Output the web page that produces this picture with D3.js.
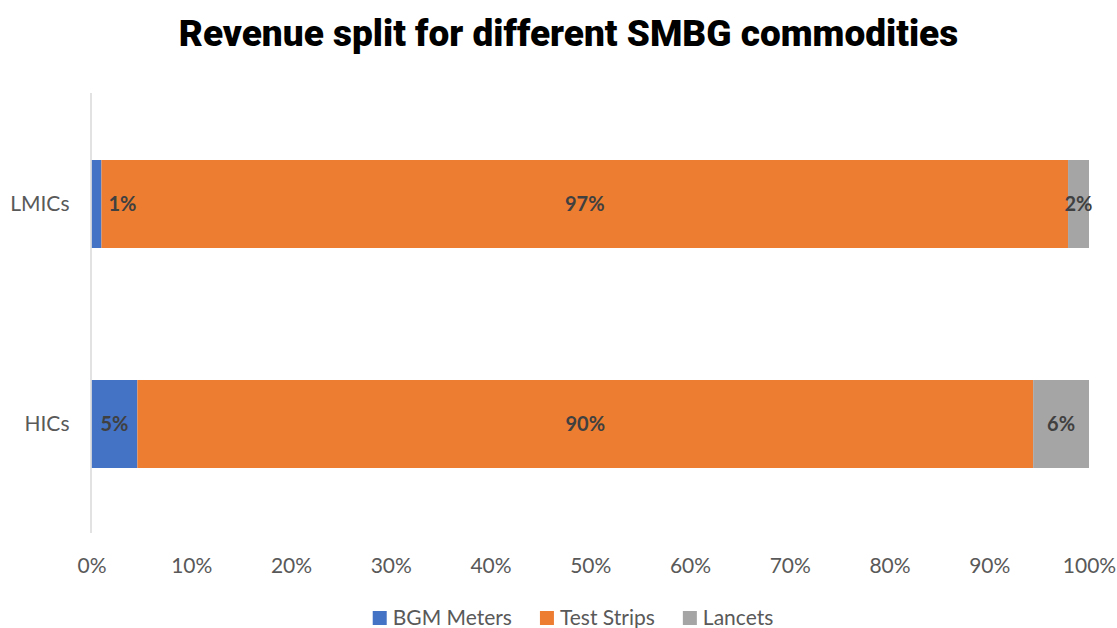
<!DOCTYPE html>
<html>
<head>
<meta charset="utf-8">
<script src="https://cdn.jsdelivr.net/npm/d3@7"></script>
<style>
  html, body { margin: 0; padding: 0; background: #ffffff; }
  svg { display: block; }
</style>
</head>
<body>
<svg id="chart" width="1117" height="628"></svg>
<script>
// Income groups and the share of SMBG revenue (in %) per commodity
const categories = ["LMICs", "HICs"];
const seriesNames = ["BGM Meters", "Test Strips", "Lancets"];
const bgmMeters  = [1.0, 4.6];
const testStrips = [96.9, 89.8];
const lancets    = [2.1, 5.6];
const tickValues = [0, 10, 20, 30, 40, 50, 60, 70, 80, 90, 100];
const colors = ["#4472C4", "#ED7D31", "#A5A5A5"];

const width = 1117, height = 628;
const margin = { top: 94, right: 28, bottom: 94, left: 91.5 };

const svg = d3.select("#chart");

const rows = categories.map((c, i) => ({
  category: c,
  "BGM Meters": bgmMeters[i],
  "Test Strips": testStrips[i],
  "Lancets": lancets[i]
}));

const stacked = d3.stack().keys(seriesNames)(rows);

const x = d3.scaleLinear().domain([0, 100]).range([margin.left, width - margin.right]);
const y = d3.scaleBand().domain(categories)
  .range([margin.top, height - margin.bottom])
  .paddingInner(0.6).paddingOuter(0.3);

const labelFont = "Lato, 'Open Sans', sans-serif";

// Title
svg.append("text")
  .attr("x", width / 2 + 10)
  .attr("y", 46)
  .attr("text-anchor", "middle")
  .attr("font-family", "Roboto, sans-serif")
  .attr("font-weight", 900)
  .attr("font-size", 37)
  .attr("fill", "#000")
  .text("Revenue split for different SMBG commodities");

// Stacked bars
const layer = svg.append("g").selectAll("g")
  .data(stacked).join("g")
  .attr("fill", (d, i) => colors[i]);

layer.selectAll("rect")
  .data(d => d).join("rect")
  .attr("x", d => x(d[0]))
  .attr("y", d => y(d.data.category))
  .attr("width", d => x(d[1]) - x(d[0]))
  .attr("height", y.bandwidth());

// Vertical category axis line
svg.append("line")
  .attr("x1", x(0) - 0.5).attr("x2", x(0) - 0.5)
  .attr("y1", margin.top - 1).attr("y2", height - margin.bottom - 1)
  .attr("stroke", "#d9d9d9").attr("stroke-width", 1.5);

// Category labels
const yAxis = d3.axisLeft(y).tickSize(0).tickPadding(22);
const yg = svg.append("g").attr("transform", `translate(${x(0)},0)`).call(yAxis);
yg.select(".domain").remove();
yg.selectAll("text")
  .attr("font-family", labelFont).attr("font-size", 21).attr("fill", "#595959");

// Percentage axis
const xAxis = d3.axisBottom(x).tickValues(tickValues).tickFormat(d => d + "%").tickSize(0).tickPadding(0);
const xg = svg.append("g").attr("transform", `translate(0,${573})`).call(xAxis);
xg.select(".domain").remove();
xg.selectAll("text")
  .attr("dy", 0)
  .attr("font-family", labelFont).attr("font-size", 21).attr("fill", "#595959");

// Data labels, drawn above all bar segments
const narrow = d => x(d[1]) - x(d[0]) < 15;
svg.append("g").selectAll("g")
  .data(stacked).join("g")
  .selectAll("text")
  .data(d => d).join("text")
  .attr("x", d => narrow(d) ? x(d[1]) + 7 : (x(d[0]) + x(d[1])) / 2)
  .attr("text-anchor", d => narrow(d) ? "start" : "middle")
  .attr("y", d => y(d.data.category) + y.bandwidth() / 2)
  .attr("dy", "0.35em")
  .attr("font-family", labelFont)
  .attr("font-weight", 700)
  .attr("font-size", 20)
  .attr("fill", "#404040")
  .text(d => Math.round(d[1] - d[0]) + "%");

// Legend
const legend = svg.append("g");
let lx = 0;
seriesNames.forEach((name, i) => {
  const item = legend.append("g").attr("transform", `translate(${lx},0)`);
  item.append("rect").attr("x", 0).attr("y", -14).attr("width", 14).attr("height", 14).attr("fill", colors[i]);
  const t = item.append("text").attr("x", 20).attr("y", 0)
    .attr("font-family", labelFont).attr("font-size", 21).attr("fill", "#595959")
    .text(name);
  lx += 20 + t.node().getComputedTextLength() + 28;
});
const legendWidth = lx - 28;
legend.attr("transform", `translate(${573 - legendWidth / 2},625)`);
</script>
</body>
</html>
